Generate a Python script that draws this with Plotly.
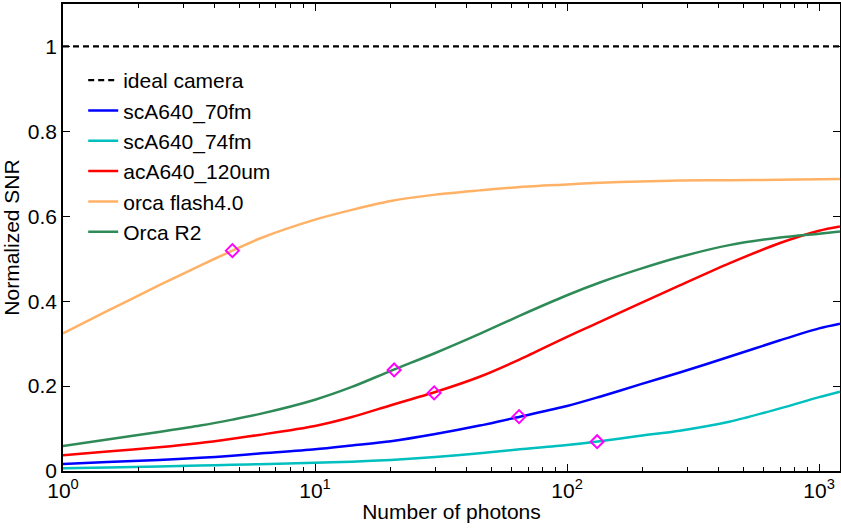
import plotly.graph_objects as go

# ---- data ----
photons = [1, 1.5, 2.4, 3.5, 4.7, 6, 10, 14, 20, 30, 45, 65, 100, 135, 195, 280, 440, 700, 1000, 1210]

ideal_x = [1, 1210]
ideal_y = [1, 1]

sca640_70fm = [0.0165, 0.021, 0.026, 0.031, 0.036, 0.041, 0.051, 0.060, 0.070, 0.087, 0.107, 0.128, 0.153, 0.175, 0.204, 0.232, 0.269, 0.308, 0.336, 0.347]
sca640_74fm = [0.0065, 0.008, 0.0105, 0.013, 0.0145, 0.016, 0.0195, 0.022, 0.026, 0.033, 0.042, 0.051, 0.061, 0.070, 0.083, 0.095, 0.116, 0.1475, 0.174, 0.187]
aca640_120um = [0.037, 0.046, 0.056, 0.066, 0.076, 0.085, 0.106, 0.127, 0.155, 0.186, 0.222, 0.263, 0.316, 0.351, 0.395, 0.437, 0.489, 0.537, 0.566, 0.576]
orca_flash40 = [0.324, 0.377, 0.437, 0.484, 0.519, 0.547, 0.592, 0.615, 0.636, 0.651, 0.661, 0.669, 0.675, 0.679, 0.682, 0.684, 0.685, 0.686, 0.687, 0.688]
orca_r2 = [0.059, 0.074, 0.092, 0.107, 0.121, 0.134, 0.168, 0.198, 0.236, 0.278, 0.323, 0.366, 0.414, 0.444, 0.476, 0.504, 0.532, 0.550, 0.559, 0.564]

marker_x = [4.7, 20.6, 29.7, 64.5, 131.6]
marker_y = [0.519, 0.238, 0.184, 0.128, 0.069]

x_tickvals = [1, 10, 100, 1000]
x_ticktext = ["10<sup>0</sup>", "10<sup>1</sup>", "10<sup>2</sup>", "10<sup>3</sup>"]
y_tickvals = [0, 0.2, 0.4, 0.6, 0.8, 1]
y_ticktext = ["0", "0.2", "0.4", "0.6", "0.8", "1"]
minor_vals = [m * 10 ** e for e in range(0, 4) for m in range(2, 10)]

FONT = "Liberation Sans, Arial, Helvetica, sans-serif"
FS = 21

fig = go.Figure()
fig.add_trace(go.Scatter(x=ideal_x, y=ideal_y, mode="lines", name="ideal camera",
                         line=dict(color="black", width=2.2, dash="6px,4px")))
series = [
    ("scA640_70fm", sca640_70fm, "#0000ff"),
    ("scA640_74fm", sca640_74fm, "#00bfbf"),
    ("acA640_120um", aca640_120um, "#ff0000"),
    ("orca flash4.0", orca_flash40, "#ffb266"),
    ("Orca R2", orca_r2, "#2e8b57"),
]
for name, ys, col in series:
    fig.add_trace(go.Scatter(x=photons, y=ys, mode="lines", name=name,
                             line=dict(color=col, width=2.5, shape="spline", smoothing=0.8)))
fig.add_trace(go.Scatter(x=marker_x, y=marker_y, mode="markers", showlegend=False,
                         marker=dict(symbol="diamond-open", size=10, color="#ff00ff",
                                     line=dict(width=2, color="#ff00ff"))))

fig.update_layout(
    width=841, height=528,
    margin=dict(l=63, r=1, t=4, b=57),
    paper_bgcolor="white", plot_bgcolor="white",
    font=dict(family=FONT, size=FS, color="black"),
    legend=dict(x=0.026, y=0.88, xanchor="left", yanchor="top",
                bgcolor="rgba(0,0,0,0)", font=dict(size=FS), itemwidth=30),
    showlegend=True,
)
fig.update_xaxes(type="log", range=[0, 3.083], tickvals=x_tickvals, ticktext=x_ticktext,
                 ticks="inside", ticklen=7, tickwidth=1, tickcolor="black",
                 showline=True, linecolor="black", linewidth=1.5, mirror="ticks",
                 showgrid=False, zeroline=False, automargin=False,
                 minor=dict(tickvals=minor_vals, ticks="inside", ticklen=4, tickcolor="black", showgrid=False),
                 title=dict(text="Number of photons", font=dict(size=FS), standoff=3),
                 tickfont=dict(size=FS))
fig.update_yaxes(range=[0, 1.1], tickvals=y_tickvals, ticktext=y_ticktext,
                 ticks="inside", ticklen=7, tickwidth=1, tickcolor="black",
                 showline=True, linecolor="black", linewidth=1.5, mirror="ticks",
                 showgrid=False, zeroline=False, automargin=False,
                 title=dict(text="Normalized SNR", font=dict(size=FS), standoff=4),
                 tickfont=dict(size=FS))

fig.write_html("out.html", config={"displayModeBar": False},
               post_script="document.body.style.margin='0';")
